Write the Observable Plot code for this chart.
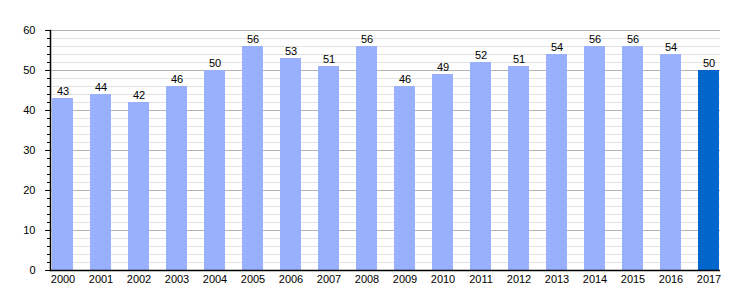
<!DOCTYPE html>
<html>
<head>
<meta charset="utf-8">
<script src="https://cdn.jsdelivr.net/npm/d3@7"></script>
<script src="https://cdn.jsdelivr.net/npm/@observablehq/plot@0.6"></script>
<style>
  html, body { margin: 0; padding: 0; background: #fff; }
  #chart svg { display: block; }
</style>
</head>
<body>
<div id="chart"></div>
<script>
const years = ["2000","2001","2002","2003","2004","2005","2006","2007","2008","2009","2010","2011","2012","2013","2014","2015","2016","2017"];
const values = [43,44,42,46,50,56,53,51,56,46,49,52,51,54,56,56,54,50];
const highlightYear = "2017";
const majorTicks = [0,10,20,30,40,50,60];
const minorTicks = d3.range(0, 61, 2);

const data = years.map((y, i) => ({year: y, value: values[i], hi: y === highlightYear}));

const chart = Plot.plot({
  width: 750,
  height: 300,
  marginLeft: 50,
  marginRight: 30,
  marginTop: 30,
  marginBottom: 30,
  style: {fontFamily: "'Liberation Sans', Arial, sans-serif", fontSize: "11px", color: "#000", background: "#fff"},
  x: {domain: years, paddingInner: 0.45, paddingOuter: 0, label: null},
  y: {domain: [0, 60], label: null},
  marks: [
    Plot.ruleY(minorTicks, {stroke: "#e2e2e2", strokeWidth: 1}),
    Plot.ruleY(majorTicks, {stroke: "#b3b3b3", strokeWidth: 1}),
    Plot.barY(data, {x: "year", y: "value", fill: d => d.hi ? "#0066cc" : "#99b0ff"}),
    Plot.text(data, {x: "year", y: "value", text: d => String(d.value), lineAnchor: "bottom", dy: -4, fill: "#000", fontSize: 11}),
    Plot.axisY(minorTicks, {tickSize: 3, tickFormat: () => "", stroke: "#000"}),
    Plot.axisY(majorTicks, {tickSize: 5, tickPadding: 10, stroke: "#000", fill: "#000", fontSize: 11}),
    Plot.axisX({tickSize: 0, tickPadding: 5, fill: "#000", fontSize: 11}),
    Plot.frame({anchor: "left", stroke: "#000", strokeWidth: 1.5}),
    Plot.ruleY([0], {stroke: "#000", strokeWidth: 1.5})
  ]
});
document.getElementById("chart").append(chart);
</script>
</body>
</html>
